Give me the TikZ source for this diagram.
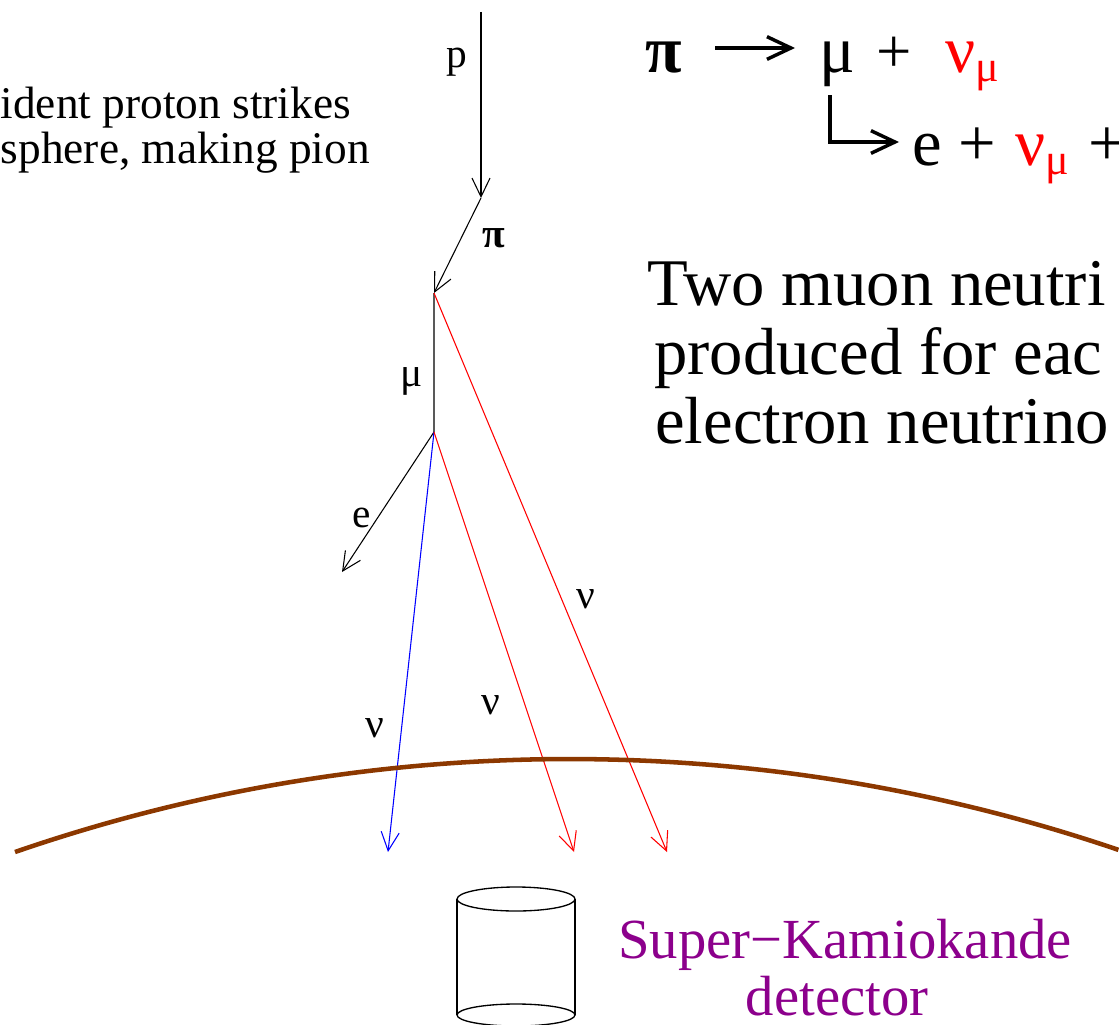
\documentclass[tikz,border=0pt]{standalone}
\usepackage{fontspec}
\newfontfamily\tms{Liberation Serif}
\usetikzlibrary{arrows.meta}
\definecolor{earth}{RGB}{140,56,0}
\definecolor{skpurple}{RGB}{140,0,140}
\tikzset{
  thin line/.style={line width=0.8pt},
  tipped/.style={thin line,-{Straight Barb[length=14pt,width=13.5pt]}},
  bigtip/.style={line width=2.6pt,-{Straight Barb[length=18pt,width=17pt]}},
  lab/.style={inner sep=0pt,font=\tms\fontsize{31}{31}\selectfont},
  lefttext/.style={inner sep=0pt,font=\tms\fontsize{34}{34}\selectfont},
  bigtext/.style={inner sep=0pt,font=\tms\fontsize{50}{50}\selectfont},
  skname/.style={inner sep=0pt,text=skpurple,font=\tms\fontsize{42.5}{42.5}\selectfont},
}
\newcommand{\numu}{ν\raisebox{-7pt}{\fontsize{33}{33}\selectfont μ}}
\begin{document}
\begin{tikzpicture}[x=0.75pt,y=-0.75pt]
\useasboundingbox (0,0) rectangle (1119,1024);
\clip (0,0) rectangle (1119,1024);

% left explanatory text
\node[lefttext,anchor=base east] (t1) at (351,118) {ident proton strikes};
\node[lefttext,anchor=base east] (t2) at (370,163) {sphere, making pion};

% decay formula
\node[bigtext,anchor=base west] (pi) at (645,72) {\bfseries π};
\coordinate (ar1) at (715,48);
\coordinate (ar2) at (795,48);
\draw[bigtip] (ar1) -- (ar2);
\node[bigtext,anchor=base west] (mu) at (819,72) {μ};
\node[bigtext,anchor=base west,font=\tms\fontsize{47}{47}\selectfont] (pl1) at (876,72) {+};
\node[bigtext,anchor=base west,text=red] (nu1) at (945,72) {\numu};
\coordinate (h1) at (830,95);
\coordinate (h2) at (830,142);
\coordinate (h3) at (899,142);
\draw[bigtip] (h1) -- (h2) -- (h3);
\node[bigtext,anchor=base west] (e2) at (912,165) {e};
\node[bigtext,anchor=base west] (pl2) at (958,165) {+};
\node[bigtext,anchor=base west,text=red] (nu2) at (1015,165) {\numu};
\node[bigtext,anchor=base west] (pl3) at (1088,165) {+};

% statement
\node[bigtext,anchor=base west] (s1) at (647,305) {Two muon neutri};
\node[bigtext,anchor=base west] (s2) at (654,374) {produced for eac};
\node[bigtext,anchor=base west] (s3) at (655,443) {electron neutrino};

% shower
\coordinate (p0) at (481,12);
\coordinate (v1) at (481,198);
\coordinate (v2) at (434,293);
\coordinate (v3) at (434,432);
\coordinate (ee) at (342,572);
\coordinate (nb) at (388,852);
\coordinate (nr1) at (574,852);
\coordinate (nr2) at (667,852);

\draw[tipped] (p0) -- (v1);
\draw[tipped] (v1) -- (v2);
\draw[thin line,black!65,line width=1pt] (v2) -- (v3);
\draw[tipped] (v3) -- (ee);
\draw[tipped,blue] (v3) -- (nb);
\draw[tipped,red] (v3) -- (nr1);
\draw[tipped,red] (v2) -- (nr2);

\node[lab,anchor=base] (lp) at (457,68) {p};
\node[lab,anchor=base] (lpi) at (494,247) {\bfseries π};
\node[lab,anchor=base] (lmu) at (412,386) {μ};
\node[lab,anchor=base] (le) at (362,527) {e};
\node[lab,anchor=base] (ln1) at (586,608) {ν};
\node[lab,anchor=base] (ln2) at (491,714) {ν};
\node[lab,anchor=base] (ln3) at (375,737) {ν};

% earth surface
\draw[earth,line width=3.4pt] (15,852) arc[start angle=-109.03,end angle=-71.2,radius=1702];

% detector
\draw[line width=1pt] (457,899) -- (457,1015);
\draw[line width=1pt] (575,899) -- (575,1015);
\draw[line width=1pt] (516,899) ellipse[x radius=59,y radius=12];
\draw[line width=1pt] (516,1015) ellipse[x radius=59,y radius=11];

\node[skname,anchor=base] (sk1) at (845,958) {Super−Kamiokande};
\node[skname,anchor=base] (sk2) at (837,1015) {detector};
\end{tikzpicture}
\end{document}
